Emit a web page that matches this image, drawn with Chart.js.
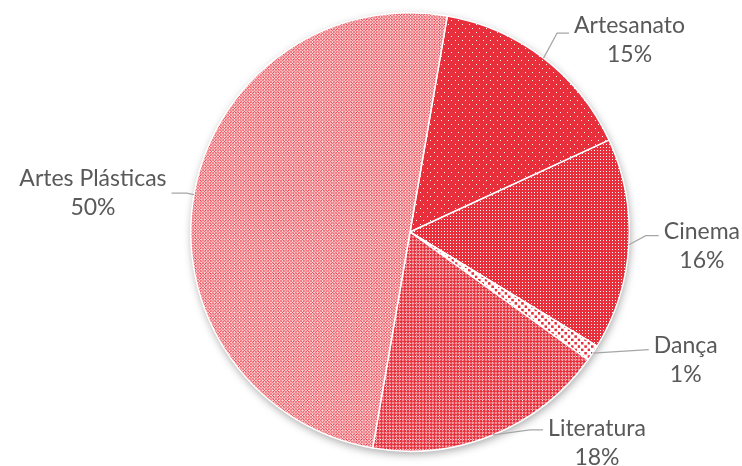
<!DOCTYPE html>
<html><head><meta charset="utf-8">
<script src="https://cdn.jsdelivr.net/npm/chart.js@4/dist/chart.umd.min.js"></script>
<style>html,body{margin:0;padding:0;background:#fff}#wrap{width:742px;height:466px}</style>
</head><body><div id="wrap"><canvas id="c" width="742" height="466"></canvas></div>
<script>
const categories = ['Artesanato', 'Cinema', 'Dança', 'Literatura', 'Artes Plásticas'];
const values = [15.4, 15.6, 1.2, 17.8, 50.0];

const RED = 'rgb(232,48,60)';
const WHITE = '#ffffff';
const ctx0 = document.getElementById('c').getContext('2d');

function makePattern(tw, th, bg, fg, cells, scale) {
  const c = document.createElement('canvas');
  c.width = tw; c.height = th;
  const x = c.getContext('2d');
  x.fillStyle = bg; x.fillRect(0, 0, tw, th);
  x.fillStyle = fg;
  cells.forEach(([px, py, w, h]) => x.fillRect(px, py, w || 1, h || 1));
  const p = ctx0.createPattern(c, 'repeat');
  if (scale !== 1) p.setTransform(new DOMMatrix([scale, 0, 0, scale, 0, 0]));
  return p;
}
function cellsWhere(fn) {
  const out = [];
  for (let y = 0; y < 8; y++) for (let x = 0; x < 8; x++) if (fn(x, y)) out.push([x, y]);
  return out;
}
const S = 0.83;
const patterns = [
  makePattern(7, 8, RED, WHITE, [[0, 0], [3, 4]], 1),                         // Artesanato
  makePattern(3, 3, RED, WHITE, [[0, 0]], 1),                                  // Cinema
  makePattern(8, 8, WHITE, RED, [[0, 0, 3, 3], [4, 4, 3, 3]], S),             // Dança
  makePattern(8, 8, RED, WHITE, cellsWhere((x, y) => {                         // Literatura
    const a = x % 4, b = y % 4;
    return (a === 1 && (b === 0 || b === 2)) || (b === 1 && (a === 0 || a === 2));
  }), S),
  makePattern(8, 8, 'rgb(251,214,217)', RED, cellsWhere((x, y) =>              // Artes Plásticas
    ((x + y) % 4 === 0) || (((x - y) % 4 + 4) % 4 === 0)), S)
];

// label layout: offset of label centre from the slice's edge point, leader y offset, elbow run
const labelLayout = [
  { dx: 86, dy: -18, ly: -7, run: 12 },
  { dx: 73, dy: 1, ly: -10, run: 13 },
  { dx: 93, dy: 6.5, ly: -10, run: 0 },
  { dx: 104, dy: 8, ly: -13, run: 13 },
  { dx: -101, dy: -1.5, ly: 0, run: 15 }
];

const shadowPlugin = {
  id: 'pieShadow',
  beforeDatasetsDraw(chart) {
    const a = chart.getDatasetMeta(0).data[0];
    const ctx = chart.ctx;
    ctx.save();
    ctx.shadowColor = 'rgba(0,0,0,0.35)';
    ctx.shadowBlur = 9;
    ctx.shadowOffsetX = 1;
    ctx.shadowOffsetY = 3;
    ctx.beginPath();
    ctx.arc(a.x, a.y, a.outerRadius, 0, Math.PI * 2);
    ctx.fillStyle = '#fff';
    ctx.fill();
    ctx.restore();
  }
};

const labelPlugin = {
  id: 'pieLabels',
  afterDatasetsDraw(chart) {
    const ctx = chart.ctx;
    const meta = chart.getDatasetMeta(0);
    const total = values.reduce((s, v) => s + v, 0);
    ctx.save();
    ctx.font = '23px Lato';
    meta.data.forEach((arc, i) => {
      const mid = (arc.startAngle + arc.endAngle) / 2;
      const ex = arc.x + Math.cos(mid) * arc.outerRadius;
      const ey = arc.y + Math.sin(mid) * arc.outerRadius;
      const L = labelLayout[i];
      const cx = ex + L.dx, cy = ey + L.dy;
      const l1 = categories[i];
      const l2 = Math.round(values[i] / total * 100) + '%';
      const w = Math.max(ctx.measureText(l1).width, ctx.measureText(l2).width);
      const right = L.dx > 0;
      const endX = right ? cx - w / 2 - 5 : cx + w / 2 + 5;
      const endY = cy + L.ly;
      const elbowX = right ? endX - L.run : endX + L.run;
      ctx.strokeStyle = '#a6a6a6';
      ctx.lineWidth = 1.2;
      ctx.beginPath();
      ctx.moveTo(ex, ey);
      ctx.lineTo(elbowX, endY);
      ctx.lineTo(endX, endY);
      ctx.stroke();
      ctx.fillStyle = '#595959';
      ctx.textAlign = 'center';
      ctx.textBaseline = 'middle';
      ctx.fillText(l1, cx, cy - 14.5);
      ctx.fillText(l2, cx, cy + 14.5);
    });
    ctx.restore();
  }
};

function draw() {
  new Chart(document.getElementById('c'), {
    type: 'pie',
    data: {
      labels: categories,
      datasets: [{
        data: values,
        backgroundColor: patterns,
        borderColor: '#ffffff',
        borderWidth: 1.5,
        rotation: 9.8
      }]
    },
    options: {
      responsive: false,
      animation: false,
      layout: { padding: { left: 190, right: 112, top: 12, bottom: 14 } },
      plugins: { legend: { display: false }, tooltip: { enabled: false } }
    },
    plugins: [shadowPlugin, labelPlugin]
  });
}
if (document.fonts && document.fonts.load) {
  document.fonts.load('23px Lato').then(draw, draw);
} else draw();
</script>
</body></html>
